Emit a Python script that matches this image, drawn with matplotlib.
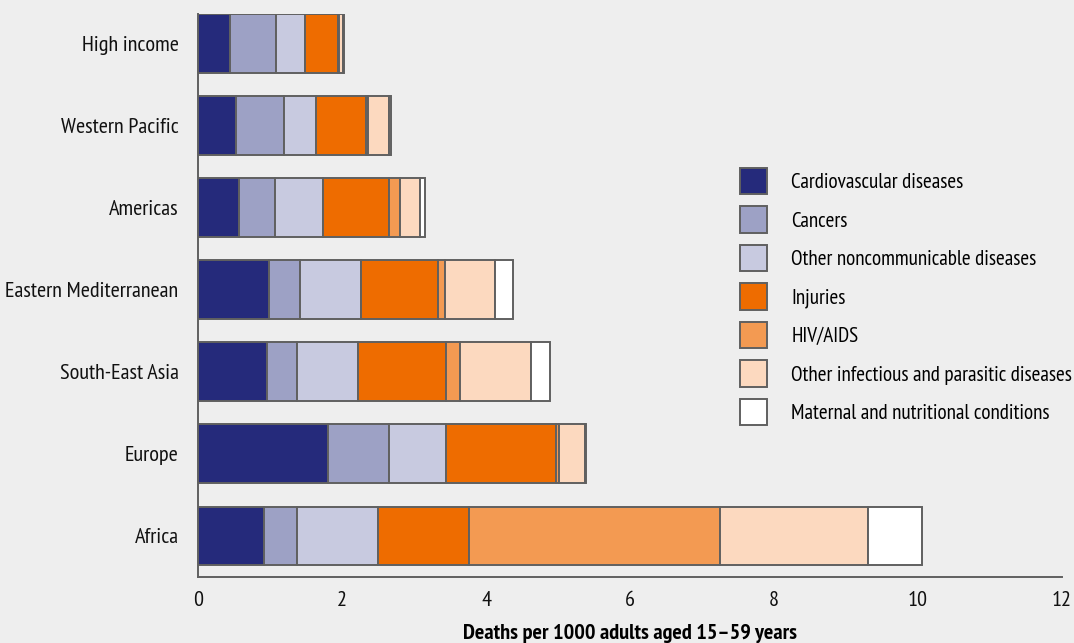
import numpy as np
import matplotlib
matplotlib.use('Agg')
import matplotlib.pyplot as plt
from matplotlib.patches import Patch

plt.rcParams['font.family'] = ['PT Sans Narrow', 'DejaVu Sans']

# Regions, bottom to top
regions = ['Africa', 'Europe', 'South-East Asia', 'Eastern Mediterranean',
           'Americas', 'Western Pacific', 'High income']

# Deaths per 1000 adults aged 15-59, by cause (same order as regions)
cardiovascular = [0.91, 1.80, 0.96, 0.98, 0.57, 0.53, 0.44]
cancers = [0.47, 0.85, 0.42, 0.44, 0.50, 0.67, 0.65]
other_ncd = [1.12, 0.80, 0.84, 0.84, 0.67, 0.44, 0.40]
injuries = [1.27, 1.52, 1.22, 1.08, 0.91, 0.69, 0.45]
hiv_aids = [3.48, 0.04, 0.20, 0.09, 0.15, 0.03, 0.02]
other_infectious = [2.06, 0.36, 0.99, 0.70, 0.28, 0.29, 0.05]
maternal = [0.75, 0.02, 0.26, 0.24, 0.07, 0.03, 0.02]

causes = ['Cardiovascular diseases', 'Cancers', 'Other noncommunicable diseases',
          'Injuries', 'HIV/AIDS', 'Other infectious and parasitic diseases',
          'Maternal and nutritional conditions']
series = [cardiovascular, cancers, other_ncd, injuries, hiv_aids,
          other_infectious, maternal]
colors = ['#252A7B', '#9DA1C5', '#C8CAE0', '#EE6C00', '#F39A52', '#FCD9BF', '#FFFFFF']

bg = '#EEEEEE'
edge = '#606060'

fig = plt.figure(figsize=(10.74, 6.43), dpi=100, facecolor=bg)
ax = fig.add_axes([198 / 1074, 1 - 577 / 643, 864 / 1074, 563 / 643])
ax.set_facecolor(bg)

y = np.arange(len(regions))
left = np.zeros(len(regions))
for vals, col, name in zip(series, colors, causes):
    ax.barh(y, vals, left=left, height=0.715, color=col, edgecolor=edge,
            linewidth=1.4, label=name)
    left += np.array(vals)

ax.set_xlim(0, 12)
ax.set_ylim(-0.5, 6.355)
ax.set_xticks([0, 2, 4, 6, 8, 10, 12])
ax.set_yticks(y)
ax.set_yticklabels(regions)
ax.tick_params(axis='both', length=0, labelsize=16, colors='#111111')
ax.tick_params(axis='y', pad=14)
ax.tick_params(axis='x', pad=10)
for s in ['top', 'right']:
    ax.spines[s].set_visible(False)
for s in ['left', 'bottom']:
    ax.spines[s].set_color(edge)
    ax.spines[s].set_linewidth(1.4)

ax.set_xlabel('Deaths per 1000 adults aged 15\u201359 years', fontsize=16,
              fontweight='bold', labelpad=10)

handles = [Patch(facecolor=c, edgecolor=edge, linewidth=1.4) for c in colors]
ax.legend(handles, causes, loc='upper left', bbox_to_anchor=(0.627, 0.7265),
          frameon=False, fontsize=15.2, handlelength=1.3, handleheight=1.55,
          handletextpad=1.15, labelspacing=0.57, borderpad=0, borderaxespad=0)

fig.savefig('out.png', dpi=100, facecolor=bg)
